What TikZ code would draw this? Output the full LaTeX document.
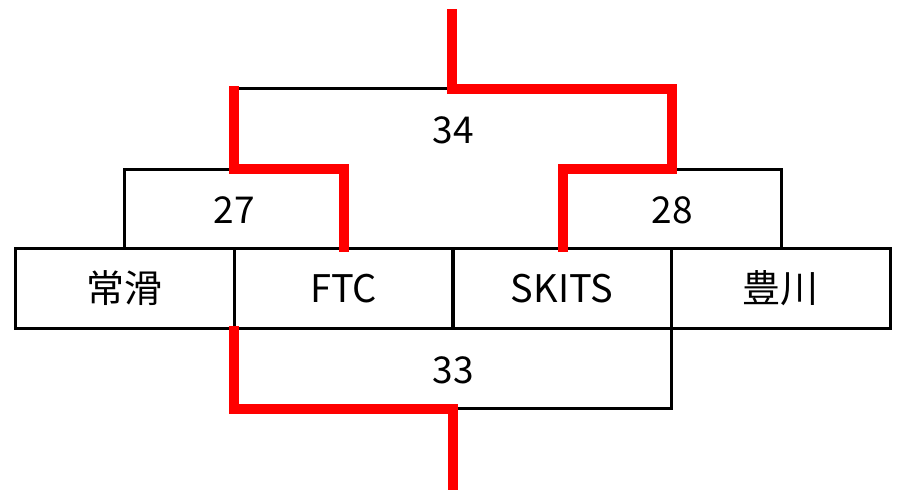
\documentclass[tikz,border=0pt]{standalone}
\usepackage{fontspec}
\setmainfont{Noto Sans CJK JP}
\usetikzlibrary{calc}
\begin{document}
\begin{tikzpicture}[x=1pt,y=-1pt,
  team/.style={draw=black,line width=3pt,minimum width=219pt,minimum height=80pt,inner sep=0pt,font=\fontsize{38}{42}\selectfont},
  score/.style={inner sep=0pt,font=\fontsize{37}{40}\selectfont},
  thin/.style={draw=black,line width=3pt,line join=miter},
  win/.style={draw=red,line width=10pt,line join=miter,line cap=butt}]
\useasboundingbox (0,0) rectangle (904,490);
% team boxes
\node[team] (j) at (124.5,288.5) {常滑};
\node[team] (f) at (343.5,288.5) {FTC};
\node[team] (s) at (562,288.5) {SKITS};
\node[team] (t) at (780.5,288.5) {豊川};
% score labels
\node[score] (l34) at (453,130) {34};
\node[score] (l27) at (234,210.5) {27};
\node[score] (l28) at (672,210.5) {28};
\node[score] (l33) at (453,370) {33};
% bracket corners
\coordinate (c27l) at (124.5,169);
\coordinate (c27m) at (233.5,169);
\coordinate (c27r) at (343.5,169);
\coordinate (c28l) at (563,169);
\coordinate (c28m) at (672,169);
\coordinate (c28r) at (781,169);
\coordinate (c34l) at (233.5,88.5);
\coordinate (c34lt) at (233.5,86);
\coordinate (c34m) at (452,88.5);
\coordinate (c34r) at (672,88.5);
\coordinate (top) at (452,9);
\coordinate (c33l) at (234,408.5);
\coordinate (c33m) at (452.5,408.5);
\coordinate (c33r) at (671,408.5);
\coordinate (bot) at (452.5,490);
\coordinate (st) at (671,328.5);
\coordinate (jf) at (234,326);
% black (losing) lines
\draw[thin] (j.north) -- (c27l) -- (c27m);
\draw[thin] (c28m) -- (c28r) -- (c28r |- t.north);
\draw[thin] (c34l) -- (c34m);
\draw[thin] (c33m) -- (c33r) -- (st);
% red (winning) lines
\draw[win] (c34lt) -- (c27m) -- (c27r) -- ($(c27r)+(0,83)$);
\draw[win] ($(c28l)+(0,83)$) -- (c28l) -- (c28m) -- (c34r) -- (c34m) -- (top);
\draw[win] (jf) -- (c33l) -- (c33m) -- (bot);
\end{tikzpicture}
\end{document}
